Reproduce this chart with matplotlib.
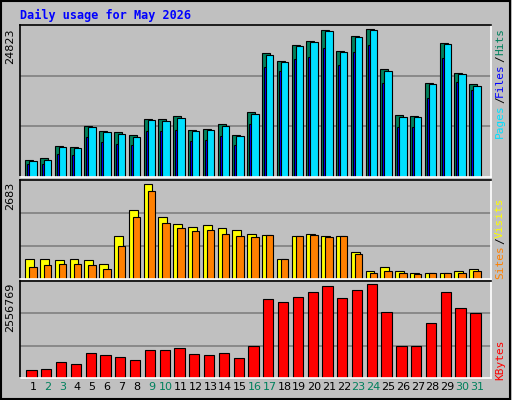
import matplotlib
matplotlib.use("Agg")
import matplotlib.pyplot as plt
from matplotlib.patches import Rectangle
import numpy as np

days = list(range(1, 32))
weekend = [2, 3, 9, 10, 16, 17, 23, 24, 30, 31]

hits = [2920, 3257, 5279, 5111, 8649, 7806, 7638, 7132, 9828, 9828, 10333, 7975, 8143, 8986, 7132, 11007,
        20779, 19544, 22127, 22801, 24654, 21116, 23643, 24823, 18083, 10502, 10333, 15725, 22464, 17410, 15556]
files = [2752, 2920, 5111, 4943, 8481, 7638, 7301, 6795, 9660, 9491, 9996, 7806, 7975, 8649, 6964, 10670,
         20442, 19263, 21959, 22633, 24486, 20947, 23474, 24654, 17746, 10165, 10165, 15556, 22296, 17241, 15219]
pages = [2134, 2246, 3931, 3650, 6683, 5953, 5616, 5335, 7694, 7694, 7975, 6121, 6290, 6964, 5448, 8986,
         18420, 17803, 19768, 20105, 21622, 18757, 20948, 22127, 15725, 8480, 8368, 13198, 19937, 15893, 14545]
visits = [562, 562, 533, 562, 533, 416, 1230, 1957, 2683, 1753, 1550, 1463, 1521, 1434, 1404, 1288,
          1259, 562, 1230, 1288, 1230, 1230, 765, 213, 329, 213, 184, 184, 184, 213, 271]
sites = [329, 387, 416, 416, 387, 271, 940, 1753, 2509, 1579, 1434, 1375, 1404, 1288, 1230, 1201,
         1259, 562, 1230, 1259, 1201, 1230, 707, 184, 213, 184, 155, 184, 184, 184, 213]
kbytes = [205282, 233275, 429226, 373240, 681163, 625177, 569191, 485212, 765142, 765142, 821128, 653170,
          625177, 681163, 541198, 877114, 2164792, 2080813, 2220778, 2360743, 2500708, 2192785, 2416729,
          2556769, 1800883, 877114, 877114, 1492960, 2360743, 1912855, 1772890]

BG = '#c0c0c0'
GREEN = '#00805c'
mono = 'DejaVu Sans Mono'

fig = plt.figure(figsize=(5.12, 4.0), dpi=100, facecolor=BG)
fig.patches.append(Rectangle((0.002, 0.003), 0.995, 0.994, transform=fig.transFigure,
                             fill=False, edgecolor='black', linewidth=1.5))

def panel(rect, ymax):
    ax = fig.add_axes(rect)
    ax.set_facecolor(BG)
    ax.set_xlim(0.12, 31.95)
    ax.set_ylim(0, ymax)
    for f in (1/3, 2/3):
        ax.axhline(ymax * f, color='#808080', linewidth=1.2, zorder=0)
    ax.set_xticks([])
    ax.set_yticks([])
    for s in ('top', 'left'):
        ax.spines[s].set_color('black')
    for s in ('bottom', 'right'):
        ax.spines[s].set_color('white')
    for sp in ax.spines.values():
        sp.set_linewidth(1.2)
    return ax

x = np.array(days)
kw = dict(align='edge', edgecolor='black', linewidth=0.8)

ax1 = panel([0.039, 0.5575, 0.92, 0.38], 25553)
ax1.bar(x - 0.52, hits, width=0.54, color=GREEN, **kw)
ax1.bar(x - 0.39, pages, width=0.3, color='#0000ff', **kw)
ax1.bar(x - 0.25, files, width=0.5, color='#00e0ff', **kw)

ax2 = panel([0.039, 0.3025, 0.92, 0.2475], 2809)
ax2.bar(x - 0.52, visits, width=0.59, color='#ffff00', **kw)
ax2.bar(x - 0.25, sites, width=0.5, color='#ff8000', **kw)

ax3 = panel([0.039, 0.055, 0.92, 0.2425], 2650000)
ax3.bar(x - 0.45, kbytes, width=0.7, color='#ff0000', **kw)

for d in days:
    ax3.text(d, -0.04, str(d), transform=ax3.get_xaxis_transform(), ha='center', va='top',
             fontsize=8, color=GREEN if d in weekend else 'black')

for ax, lab in ((ax1, '24823'), (ax2, '2683'), (ax3, '2556769')):
    ax.text(-0.01, 0.98, lab, transform=ax.transAxes, rotation=90, ha='right', va='top', fontsize=8)

fig.text(20/512, 1 - 15/400, 'Daily usage for May 2026', color='#0000ff', family=mono,
         fontweight='bold', fontsize=8.5, ha='left', va='center')

def side(parts, ytop):
    y = ytop
    for txt, col in parts:
        t = fig.text(500/512, 1 - y/400, txt, rotation=90, color=col, family=mono,
                     fontsize=8, ha='center', va='top')
        y += len(txt) * 6.2 + 2

side([('Hits', GREEN), ('/', 'black'), ('Files', '#0000ff'), ('/', 'black'), ('Pages', '#00e0ff')], 28)
side([('Visits', '#ffff00'), ('/', 'black'), ('Sites', '#ff8000')], 198)
side([('KBytes', '#ff0000')], 340)

fig.savefig('out.png', dpi=100, facecolor=BG)
